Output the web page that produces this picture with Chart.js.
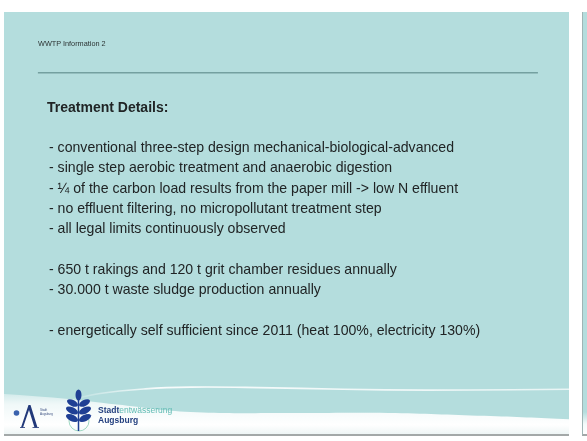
<!DOCTYPE html>
<html>
<head>
<meta charset="utf-8">
<script src="https://cdn.jsdelivr.net/npm/chart.js@4"></script>
<style>
  html, body { margin: 0; padding: 0; background: #fff; width: 587px; height: 441px; overflow: hidden; }
  body { position: relative; font-family: "Liberation Sans", Arial, sans-serif; }
  #slide { position: absolute; left: 4px; top: 12px; width: 565px; height: 422px; border-bottom: 2px solid #a3a8a8; }
  #slide canvas { position: absolute; left: 0; top: 0; }
  #next { position: absolute; left: 582px; top: 12px; width: 6px; height: 422px; border-left: 1px solid #9fb5b5;
          border-bottom: 2px solid #a3a8a8;
          background: linear-gradient(to bottom, #b4dddd 0, #b4dddd 400px, #f4fafa 412px, #ffffff 422px); }
  .txt { position: absolute; color: #202425; white-space: pre; }
  #header { left: 38px; top: 39px; font-size: 7.3px; line-height: 10px; color: #2c3333; }
  #title { left: 47px; top: 97px; font-size: 14px; font-weight: bold; line-height: 20px; }
  #body { left: 49px; top: 137px; font-size: 14.1px; line-height: 20.35px; }
  #logo { position: absolute; left: 0; top: 380px; width: 200px; height: 55px; }
  .brand { position: absolute; font-weight: bold; font-size: 8.5px; line-height: 10px; color: #24407f; white-space: pre; }
  .brand span { color: #62bcb4; font-weight: normal; }
</style>
</head>
<body>
<div id="slide"><canvas id="c" width="565" height="422"></canvas></div>
<div id="next"></div>

<div class="txt" id="header">WWTP Information 2</div>
<div class="txt" id="title">Treatment Details:</div>
<div class="txt" id="body"></div>

<div id="logo">
  <svg width="200" height="55" viewBox="0 380 200 55" style="position:absolute;left:0;top:0">
    <circle cx="16.5" cy="413" r="2.8" fill="#3a62ad"/>
    <path d="M21 427.5 L28.5 405 L30.5 405 L37.5 427.5 L34.5 427.5 L29 410 L23 427.5 Z" fill="#22397a"/>
    <line x1="20" y1="427.5" x2="25" y2="427.5" stroke="#22397a" stroke-width="0.8"/>
    <line x1="32.5" y1="427.5" x2="39" y2="427.5" stroke="#22397a" stroke-width="0.8"/>
    <text x="40" y="411" font-family="Liberation Sans, sans-serif" font-size="3" fill="#3a4f80">Stadt</text>
    <text x="40" y="415" font-family="Liberation Sans, sans-serif" font-size="3" fill="#3a4f80">Augsburg</text>
    <circle cx="79" cy="421" r="10" fill="none" stroke="#8ccfb4" stroke-width="0.8"/>
    <line x1="78.5" y1="398" x2="78.5" y2="431" stroke="#1f3f94" stroke-width="1.5"/>
    <ellipse cx="78.5" cy="395" rx="3" ry="5.5" fill="#1f3f94"/>
    <ellipse cx="72.5" cy="403" rx="6" ry="3" transform="rotate(28 72.5 403)" fill="#1f3f94"/>
    <ellipse cx="84.5" cy="403" rx="6" ry="3" transform="rotate(-28 84.5 403)" fill="#1f3f94"/>
    <ellipse cx="72" cy="410.5" rx="6.5" ry="3.2" transform="rotate(25 72 410.5)" fill="#1f3f94"/>
    <ellipse cx="85" cy="410.5" rx="6.5" ry="3.2" transform="rotate(-25 85 410.5)" fill="#1f3f94"/>
    <ellipse cx="72" cy="418" rx="6.5" ry="3.2" transform="rotate(25 72 418)" fill="#1f3f94"/>
    <ellipse cx="85" cy="418" rx="6.5" ry="3.2" transform="rotate(-25 85 418)" fill="#1f3f94"/>
  </svg>
  <div class="brand" style="left:98px;top:25px">Stadt<span>entwässerung</span></div>
  <div class="brand" style="left:98px;top:35px">Augsburg</div>
</div>

<script>
// slide text
const bullets = [
  "- conventional three-step design mechanical-biological-advanced",
  "- single step aerobic treatment and anaerobic digestion",
  "- ¼ of the carbon load results from the paper mill -> low N effluent",
  "- no effluent filtering, no micropollutant treatment step",
  "- all legal limits continuously observed",
  "",
  "- 650 t rakings and 120 t grit chamber residues annually",
  "- 30.000 t waste sludge production annually",
  "",
  "- energetically self sufficient since 2011 (heat 100%, electricity 130%)"
];
document.getElementById("body").textContent = bullets.join("\n");

// decoration, in % of the slide (x left->right, y bottom->top)
const waveX = [0, 10, 20, 33, 50, 68, 85, 100];
const bandTop = [9.5, 8.5, 7.0, 5.2, 5.0, 5.0, 4.3, 3.5];
const glintX = [11, 17, 25, 33, 45, 60, 75, 90, 100];
const glintY = [7.8, 9.6, 10.7, 11.1, 11.0, 10.6, 10.4, 10.5, 10.6];
const ruleX = [6.0, 94.5];
const ruleY = [85.6, 85.6];

function pts(xs, ys) {
    return xs.map((x, i) => ({x: x, y: ys[i]}));
}

const slideBg = {
    id: "slideBg",
    beforeDraw(chart) {
        const {ctx, chartArea: a} = chart;
        ctx.save();
        ctx.fillStyle = "#b4dddd";
        ctx.fillRect(a.left, a.top, a.right - a.left, a.bottom - a.top);
        ctx.restore();
    }
};

new Chart(document.getElementById("c"), {
    type: "scatter",
    data: {
        datasets: [
        {
            label: "band",
            data: pts(waveX, bandTop),
            showLine: true,
            tension: 0.4,
            pointRadius: 0,
            borderWidth: 0,
            borderColor: "rgba(255,255,255,0)",
            fill: "start",
            backgroundColor: function(context) {
                const c = context.chart;
                if (!c.chartArea) return "#fff";
                const g = c.ctx.createLinearGradient(0, c.chartArea.bottom - 46, 0, c.chartArea.bottom);
                g.addColorStop(0, "rgba(255,255,255,0.2)");
                g.addColorStop(0.35, "rgba(255,255,255,0.8)");
                g.addColorStop(0.8, "rgba(255,255,255,1)");
                g.addColorStop(1, "rgba(238,245,245,1)");
                return g;
            },
        },
        {
            label: "glint",
            data: pts(glintX, glintY),
            showLine: true,
            tension: 0.4,
            pointRadius: 0,
            borderWidth: 1.6,
            borderColor: function(context) {
                const c = context.chart;
                if (!c.chartArea) return "#fff";
                const g = c.ctx.createLinearGradient(c.chartArea.left + 55, 0, c.chartArea.right, 0);
                g.addColorStop(0, "rgba(255,255,255,0)");
                g.addColorStop(0.2, "rgba(255,255,255,0.9)");
                g.addColorStop(1, "rgba(255,255,255,0.7)");
                return g;
            },
            fill: false,
        },
        {
            label: "rule",
            data: pts(ruleX, ruleY),
            showLine: true,
            pointRadius: 0,
            borderWidth: 1.6,
            borderColor: "#74a0a0",
            fill: false,
        },
        ]
    },
    options: {
        responsive: false,
        animation: false,
        events: [],
        layout: { padding: 0 },
        scales: {
            x: { type: "linear", min: 0, max: 100, display: false },
            y: { type: "linear", min: 0, max: 100, display: false },
        },
        plugins: {
            legend: { display: false },
            tooltip: { enabled: false },
        }
    },
    plugins: [slideBg]
});
</script>
</body>
</html>
